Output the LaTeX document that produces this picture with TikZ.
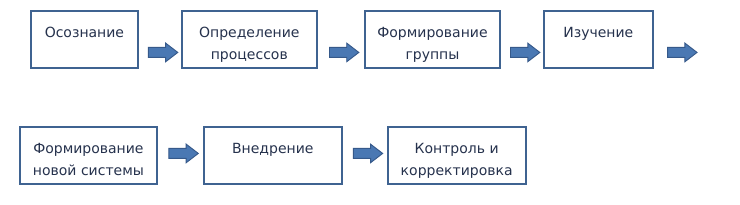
\documentclass[tikz,border=0pt]{standalone}
\usepackage{fontspec}
\setmainfont{DejaVu Sans}
\usetikzlibrary{positioning, shapes.arrows}
\definecolor{boxline}{HTML}{3F6391}
\definecolor{boxtext}{HTML}{26324D}
\definecolor{arrfill}{HTML}{4A78B3}
\definecolor{arrline}{HTML}{36598A}
\tikzset{
  procbox/.style  = {draw=boxline, line width=1.4pt, fill=white,
                     minimum height=42.75pt, inner sep=0pt},
  proctext/.style = {font=\fontsize{10.5}{17}\selectfont, text=boxtext,
                     align=center, anchor=north, yshift=-12.5pt, inner sep=0pt},
  flowarrow/.style = {single arrow, draw=arrline, fill=arrfill, line width=0.7pt,
                     minimum height=22pt, inner xsep=0pt, inner ysep=3.4pt,
                     single arrow head extend=3.2pt, single arrow tip angle=75,
                     sloped},
}
\begin{document}
\begin{tikzpicture}[node distance=32pt]
  \useasboundingbox (0,0) rectangle (555pt,-153pt);
  % first row
  \node[procbox, minimum width=80.25pt, anchor=north west,
        label={[proctext]north:Осознание}] (osozn) at (22.5pt,-7.5pt) {};
  \node[procbox, minimum width=101.25pt, right=31.5pt of osozn,
        label={[proctext]north:Определение\\процессов}] (opred) {};
  \node[procbox, minimum width=101.25pt, right=34.75pt of opred,
        label={[proctext]north:Формирование\\группы}] (group) {};
  \node[procbox, minimum width=81.75pt, right=31.5pt of group,
        label={[proctext]north:Изучение}] (izuch) {};
  \coordinate[right=33pt of izuch, yshift=-9.75pt] (next);
  % second row
  \node[procbox, minimum width=102.75pt, anchor=north west,
        label={[proctext]north:Формирование\\новой системы}] (nsys) at (14.25pt,-94.5pt) {};
  \node[procbox, minimum width=103.5pt, right=33.75pt of nsys,
        label={[proctext]north:Внедрение}] (vnedr) {};
  \node[procbox, minimum width=103.5pt, right=33pt of vnedr,
        label={[proctext]north:Контроль и\\корректировка}] (kontr) {};
  % arrows
  \path ([yshift=-9.75pt]osozn.east) -- node[flowarrow] (a1) {} ([yshift=-9.75pt]opred.west);
  \path ([yshift=-9.75pt]opred.east) -- node[flowarrow] (a2) {} ([yshift=-9.75pt]group.west);
  \path ([yshift=-9.75pt]group.east) -- node[flowarrow] (a3) {} ([yshift=-9.75pt]izuch.west);
  \node[flowarrow, left=0pt of next] (a4) {};
  \path ([yshift=1.5pt]nsys.east) -- node[flowarrow] (a5) {} ([yshift=1.5pt]vnedr.west);
  \path ([yshift=1.5pt]vnedr.east) -- node[flowarrow] (a6) {} ([yshift=1.5pt]kontr.west);
\end{tikzpicture}
\end{document}
